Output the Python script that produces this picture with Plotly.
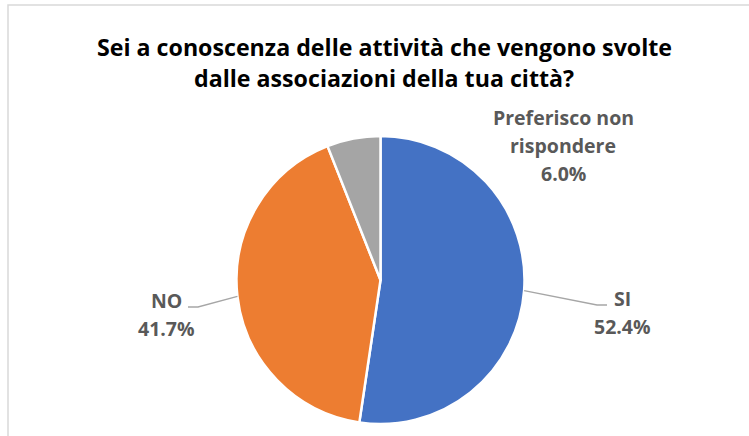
import math
import plotly.graph_objects as go

# Survey answers and their shares (%)
categories = ["SI", "NO", "Preferisco non rispondere"]
shares = [52.4, 41.7, 6.0]
colors = ["#4472C4", "#ED7D31", "#A5A5A5"]

title_lines = [
    "Sei a conoscenza delle attività che vengono svolte",
    "dalle associazioni della tua città?",
]

W, H = 749, 436
CX, CY, R = 380.5, 280.0, 144.0


def px(x):
    return x / W


def py(y):
    return 1 - y / H


fig = go.Figure(
    go.Pie(
        labels=categories,
        values=shares,
        sort=False,
        direction="clockwise",
        rotation=0,
        textinfo="none",
        hoverinfo="label+percent",
        marker=dict(colors=colors, line=dict(color="white", width=2.5)),
        domain=dict(x=[px(CX - R), px(CX + R)], y=[py(CY + R), py(CY - R)]),
        showlegend=False,
    )
)

# label placement: (centre x, first line y, leader elbow, leader end)
label_layout = {
    "SI": dict(x=622, y=298, elbow=(597, 305), end=(607, 305)),
    "NO": dict(x=166, y=300, elbow=(198, 307), end=(188, 307)),
    "Preferisco non rispondere": dict(x=563, y=117, elbow=None, end=None),
}
line_step = 28.5
label_font = dict(family="Open Sans", size=19.5, color="#595959")

total = sum(shares)
cum = 0.0
annotations = []
shapes = []
for cat, val in zip(categories, shares):
    mid = (cum + val / 2) / total * 2 * math.pi
    cum += val
    spec = label_layout[cat]
    if cat.startswith("Preferisco"):
        lines = ["Preferisco non", "rispondere"]
    else:
        lines = [cat]
    lines.append(f"{val:.1f}%")
    for i, t in enumerate(lines):
        annotations.append(dict(
            x=px(spec["x"]), y=py(spec["y"] + i * line_step),
            xref="paper", yref="paper", text=f"<b>{t}</b>",
            showarrow=False, xanchor="center", yanchor="middle",
            font=label_font,
        ))
    if spec["elbow"] is not None:
        sx = CX + R * math.sin(mid)
        sy = CY - R * math.cos(mid)
        ex, ey = spec["elbow"]
        fx, fy = spec["end"]
        shapes.append(dict(
            type="path", xref="paper", yref="paper",
            path=f"M {px(sx)} {py(sy)} L {px(ex)} {py(ey)} L {px(fx)} {py(fy)}",
            line=dict(color="#A6A6A6", width=1.3),
        ))

# two-line chart title
for i, t in enumerate(title_lines):
    annotations.append(dict(
        x=px(384), y=py(47 + i * 31), xref="paper", yref="paper",
        text=f"<b>{t}</b>", showarrow=False, xanchor="center", yanchor="middle",
        font=dict(family="Open Sans", size=23.2, color="#000000"),
    ))

# chart area frame
shapes.append(dict(
    type="rect", xref="paper", yref="paper",
    x0=px(8), x1=px(W + 10), y0=py(H + 10), y1=py(5),
    line=dict(color="#D9D9D9", width=1.5), fillcolor="rgba(0,0,0,0)", layer="below",
))

fig.update_layout(
    width=W, height=H,
    margin=dict(l=0, r=0, t=0, b=0),
    paper_bgcolor="white", plot_bgcolor="white",
    annotations=annotations,
    shapes=shapes,
)

fig.write_html("out.html")
